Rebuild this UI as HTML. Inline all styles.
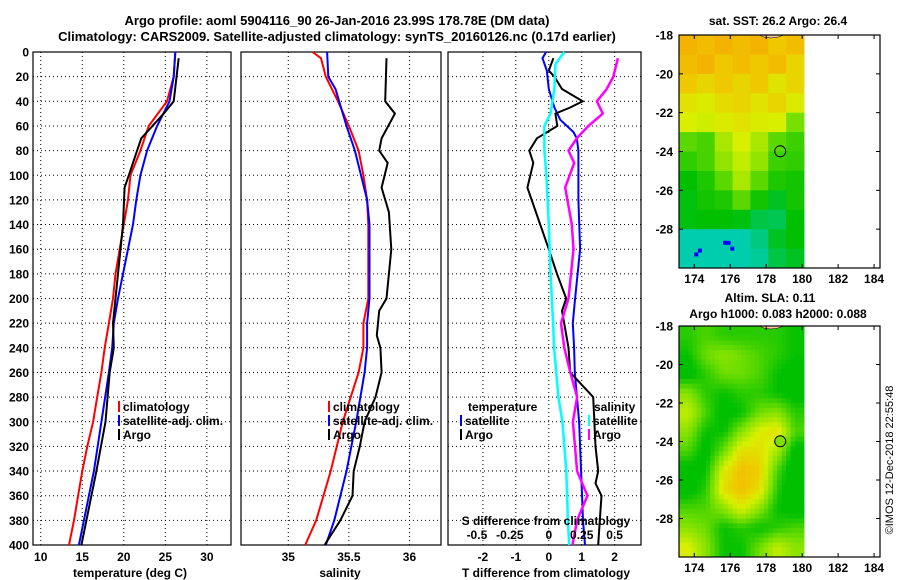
<!DOCTYPE html>
<html><head><meta charset="utf-8"><style>
html,body{margin:0;padding:0;background:#fff;}
svg{display:block;font-family:"Liberation Sans",Arial,sans-serif;font-weight:bold;}
</style></head><body>
<svg id="s" width="900" height="580" viewBox="0 0 900 580" xmlns="http://www.w3.org/2000/svg">
<text x="337" y="25" font-size="13" text-anchor="middle">Argo profile: aoml 5904116_90 26-Jan-2016 23.99S 178.78E (DM data)</text>
<text x="337" y="41" font-size="13" text-anchor="middle">Climatology: CARS2009. Satellite-adjusted climatology: synTS_20160126.nc (0.17d earlier)</text>
<text x="778" y="25" font-size="12" text-anchor="middle">sat. SST: 26.2 Argo: 26.4</text>
<text x="770" y="302" font-size="12" text-anchor="middle">Altim. SLA: 0.11</text>
<text x="778" y="318" font-size="12" text-anchor="middle">Argo h1000: 0.083 h2000: 0.088</text>
<text transform="translate(893,460) rotate(-90)" font-size="11" font-weight="normal" text-anchor="middle">©IMOS 12-Dec-2018 22:55:48</text>
<g id="g"></g>
</svg>
<script>
// ---- profile data (depth m) ----
const tClimDepth=[0,20,40,60,80,100,120,140,160,180,200,220,240,260,280,300,320,340,360,380,400];
const tClim=[26.2,26.0,25.2,23.0,22.0,20.8,20.5,20.0,19.5,19.0,18.7,18.2,17.7,17.3,16.8,16.3,15.6,15.0,14.5,14.0,13.4];
const tSatDepth=[0,20,40,60,80,100,120,140,160,180,200,220,240,260,300,340,400];
const tSat=[26.2,26.0,25.5,24.0,22.8,22.0,21.5,21.1,20.5,19.9,19.3,18.8,18.6,18.2,17.3,16.4,14.6];
const tArgoDepth=[5,40,50,70,80,100,110,140,160,200,220,240,260,300,340,400];
const tArgo=[26.6,26.0,24.8,22.1,21.6,20.6,20.1,19.9,19.6,19.0,18.7,18.8,18.3,17.8,16.7,14.9];
const sClimDepth=[0,5,20,40,60,80,100,120,140,200,220,240,260,300,340,380,400];
const sClim=[35.20,35.27,35.31,35.41,35.50,35.58,35.62,35.65,35.66,35.66,35.62,35.62,35.58,35.45,35.35,35.23,35.14];
const sSatDepth=[0,20,30,60,80,100,120,140,200,220,240,260,300,340,380,400];
const sSat=[35.32,35.33,35.39,35.48,35.55,35.60,35.65,35.67,35.67,35.65,35.65,35.63,35.56,35.48,35.38,35.31];
const sArgoDepth=[5,40,50,70,80,90,110,130,160,200,210,230,240,260,280,300,320,340,360,380,400];
const sArgo=[35.81,35.80,35.88,35.77,35.75,35.82,35.77,35.83,35.85,35.81,35.75,35.73,35.76,35.77,35.72,35.63,35.59,35.54,35.53,35.43,35.30];
const dtSatDepth=[0,5,15,30,45,55,65,70,80,120,160,200,220,240,260,300,340,380,400];
const dtSat=[-0.08,-0.19,-0.06,0.0,0.17,0.35,0.75,0.85,0.9,0.9,0.95,0.8,0.73,0.77,0.79,0.92,0.98,1.04,1.1];
const dtArgoDepth=[5,15,20,30,40,45,50,60,70,80,90,110,140,160,180,200,210,240,260,280,320,340,350,360,380,400];
const dtArgo=[0.14,0.0,0.17,0.4,1.03,0.65,0.2,0.26,-0.36,-0.59,-0.47,-0.65,-0.26,0.0,0.25,0.53,0.4,0.6,0.65,1.35,1.42,1.5,1.42,1.6,1.55,1.5];
const dsSatDepth=[0,10,30,50,60,80,100,140,180,220,240,280,300,340,380,400];
const dsSat=[0.118,0.05,0.043,0.013,-0.033,-0.033,-0.018,0.0,0.013,0.033,0.04,0.073,0.103,0.133,0.145,0.155];
const dsArgoDepth=[5,20,30,40,50,60,70,80,90,110,140,160,200,220,240,260,280,300,340,360,380,400];
const dsArgo=[0.525,0.49,0.44,0.365,0.41,0.30,0.213,0.15,0.193,0.125,0.175,0.188,0.15,0.093,0.118,0.163,0.215,0.183,0.215,0.293,0.215,0.18];
const yTicks=[0,20,40,60,80,100,120,140,160,180,200,220,240,260,280,300,320,340,360,380,400];
const tTicks=[10,15,20,25,30];
const sTicks=[35,35.5,36];
const dTTicks=[-2,-1,0,1,2];
const dSTicks=[-0.5,-0.25,0,0.25,0.5];
// ---- map data (rows lat -18..-29, cols lon 173.2..180.1) ----
const sstGrid=[
[.95,.9,.95,.9,.95,.85,.9],[.9,.95,.85,.9,.85,.9,.8],[.85,.8,.85,.8,.85,.75,.8],[.75,.72,.78,.8,.75,.8,.72],
[.7,.68,.72,.75,.72,.7,.5],[.45,.42,.6,.7,.6,.45,.4],[.38,.42,.55,.65,.55,.4,.38],[.3,.35,.45,.6,.45,.35,.33],
[.28,.33,.35,.45,.33,.25,.33],[.28,.3,.3,.28,.2,.18,.3],[.05,.05,.05,.05,.12,.25,.3],[.05,.05,.05,.05,.08,.2,.25]];
const slaGrid=[
[.45,.5,.45,.45,.45,.45,.4],[.4,.55,.6,.55,.5,.45,.4],[.35,.45,.55,.55,.5,.4,.35],[.6,.45,.4,.45,.45,.4,.35],
[.7,.5,.35,.4,.55,.6,.45],[.6,.4,.4,.6,.75,.8,.5],[.5,.35,.55,.8,.8,.65,.35],[.35,.4,.75,.9,.85,.5,.3],
[.35,.45,.8,.9,.8,.45,.3],[.5,.5,.6,.75,.6,.4,.35],[.6,.55,.4,.45,.4,.45,.5],[.75,.6,.4,.4,.55,.7,.6]];
const blueLon=[174.0,174.2,175.6,175.8,176.0];
const blueLat=[-29.2,-29.0,-28.6,-28.6,-28.9];
const lonTicks=[174,176,178,180,182,184];
const latTicks=[-18,-20,-22,-24,-26,-28];
const argoLon=178.78, argoLat=-23.99;

const NS='http://www.w3.org/2000/svg';
const G=document.getElementById('g');
function mk(t,a,p){const e=document.createElementNS(NS,t);for(const k in a)e.setAttribute(k,a[k]);(p||G).appendChild(e);return e;}
const Y0=52,Y1=545;
const yS=d=>Y0+(d/400)*(Y1-Y0);
function panel(x0,x1,xmin,xmax,ticks,name){
  const xs=v=>x0+(v-xmin)/(xmax-xmin)*(x1-x0);
  const g=mk('g',{});
  
  
  ticks.forEach(t=>{const l=mk('line',{x1:xs(t),x2:xs(t),y1:Y0,y2:Y1,stroke:'#000','stroke-dasharray':'1,3','stroke-width':1},g);
    });
  yTicks.forEach(t=>{const l=mk('line',{x1:x0,x2:x1,y1:yS(t),y2:yS(t),stroke:'#000','stroke-dasharray':'1,3','stroke-width':1},g);
    });
  const r=mk('rect',{x:x0,y:Y0,width:x1-x0,height:Y1-Y0,fill:'none',stroke:'#000','stroke-width':1.2},g);
  
  return {xs,g};
}
function line(P,xv,dv,col,w,name){
  const pts=dv.map((d,i)=>P.xs(xv[i]).toFixed(1)+','+yS(d).toFixed(1)).join(' ');
  const l=mk('polyline',{points:pts,fill:'none',stroke:col,'stroke-width':w},P.g);
  
}
function txt(x,y,s,o){const t=mk('text',Object.assign({x:x,y:y,'font-size':12},o||{}));t.textContent=s;return t;}
// panel 1
const P1=panel(33,231,9.07,32.9,tTicks,'temperature-panel');
line(P1,tClim,tClimDepth,'#f00',2,'temp-climatology-line');
line(P1,tSat,tSatDepth,'#00f',2,'temp-satellite-line');
line(P1,tArgo,tArgoDepth,'#000',2,'temp-argo-line');
yTicks.forEach(t=>{const e=txt(29,yS(t)+4.5,String(t),{'text-anchor':'end'});});
tTicks.forEach(t=>{const e=txt(P1.xs(t),561,String(t),{'text-anchor':'middle'});});
let e=txt(130,577,'temperature (deg C)',{'text-anchor':'middle'});
// panel 2
const P2=panel(241,441,34.61,36.26,sTicks,'salinity-panel');
line(P2,sClim,sClimDepth,'#f00',2,'sal-climatology-line');
line(P2,sSat,sSatDepth,'#00f',2,'sal-satellite-line');
line(P2,sArgo,sArgoDepth,'#000',2,'sal-argo-line');
sTicks.forEach(t=>{const e=txt(P2.xs(t),561,String(t),{'text-anchor':'middle'});});
e=txt(340,577,'salinity',{'text-anchor':'middle'});
// panel 3
const P3=panel(448,641,-3.06,2.80,dTTicks,'difference-panel');
line(P3,dtSat,dtSatDepth,'#00f',2,'dt-satellite-line');
line(P3,dtArgo,dtArgoDepth,'#000',2,'dt-argo-line');
line(P3,dsSat.map(v=>v*4),dsSatDepth,'#0ff',2.5,'ds-satellite-line');
line(P3,dsArgo.map(v=>v*4),dsArgoDepth,'#f0f',2.5,'ds-argo-line');
dTTicks.forEach(t=>{const e=txt(P3.xs(t),561,String(t),{'text-anchor':'middle'});});
dSTicks.forEach(t=>{const e=txt(P3.xs(t*4)+(t<0?-6:0),539,String(t),{'text-anchor':'middle'});});
e=txt(546,525,'S difference from climatology',{'text-anchor':'middle'});
e=txt(546,577,'T difference from climatology',{'text-anchor':'middle'});
// legends
function leg(x,y,col,label,name){const b=mk('rect',{x:x,y:y-10,width:2,height:11,fill:col});
  const t=txt(x+5,y,label);}
leg(118,411,'#f00','climatology','legend-climatology');
leg(118,425,'#00f','satellite-adj. clim.','legend-satellite-adj');
leg(118,439,'#000','Argo','legend-argo');
leg(328,411,'#f00','climatology','legend2-climatology');
leg(328,425,'#00f','satellite-adj. clim.','legend2-satellite-adj');
leg(328,439,'#000','Argo','legend2-argo');
e=txt(468,411,'temperature');
leg(460,425,'#00f','satellite','legend-t-satellite');
leg(460,439,'#000','Argo','legend-t-argo');
e=txt(594,411,'salinity');
leg(588,425,'#0ff','satellite','legend-s-satellite');
leg(588,439,'#f0f','Argo','legend-s-argo');
// maps
const stops=[[0,[0,208,208]],[0.3,[0,192,0]],[0.5,[120,224,0]],[0.7,[216,240,0]],[0.85,[240,200,0]],[1,[245,168,0]]];
function cmap(v){v=Math.max(0,v);for(let i=1;i<stops.length;i++){if(v<=stops[i][0]){const a=stops[i-1],b=stops[i],f=(v-a[0])/(b[0]-a[0]);
  return 'rgb('+a[1].map((c,k)=>Math.round(c+(b[1][k]-c)*f)).join(',')+')';}}return 'rgb(245,168,0)';}
function map(top,bot,grid,smooth,name){
  const x0=679,x1=880,lon0=173.15,lon1=184.33,lat0=-18,lat1=-30;
  const xs=v=>x0+(v-lon0)/(lon1-lon0)*(x1-x0), ys=v=>top+(v-lat0)/(lat1-lat0)*(bot-top);
  const g=mk('g',{});
  const R=grid.length,C=grid[0].length,dl=(180.1-lon0)/C;
  if(!smooth){
    grid.forEach((row,i)=>row.forEach((v,j)=>{const r=mk('rect',{x:xs(lon0+j*dl),y:ys(-18-i),width:xs(lon0+(j+1)*dl)-xs(lon0+j*dl)+0.5,height:ys(-19-i)-ys(-18-i)+0.5,fill:cmap(v)},g);
      }));
    blueLon.forEach((lo,k)=>{const r=mk('rect',{x:xs(lo),y:ys(blueLat[k]),width:4,height:4,fill:'#0000ff'},g);
      });
  } else {
    const N=4;
    for(let i=0;i<R*N;i++)for(let j=0;j<C*N;j++){
      const fi=Math.min(R-1,Math.max(0,(i+0.5)/N-0.5)),fj=Math.min(C-1,Math.max(0,(j+0.5)/N-0.5));
      const i0=Math.floor(fi),j0=Math.floor(fj),i1=Math.min(R-1,i0+1),j1=Math.min(C-1,j0+1),a=fi-i0,b=fj-j0;
      const v=grid[i0][j0]*(1-a)*(1-b)+grid[i0][j1]*(1-a)*b+grid[i1][j0]*a*(1-b)+grid[i1][j1]*a*b;
      const r=mk('rect',{x:xs(lon0+j*dl/N),y:ys(-18-i/N),width:xs(lon0+(j+1)*dl/N)-xs(lon0+j*dl/N)+0.5,height:ys(-18-(i+1)/N)-ys(-18-i/N)+0.5,fill:cmap(Math.max(0.3,v*1.15-0.15))},g);
      }
  }
  const land=mk('path',{d:`M${xs(177.6)} ${top} Q${xs(178.2)} ${top+6} ${xs(179)} ${top}Z`,fill:'#f5c8a0',stroke:'#000','stroke-width':0.5},g);
  
  const c=mk('circle',{cx:xs(argoLon),cy:ys(argoLat),r:5.5,fill:smooth?'#80e000':'none',stroke:'#000','stroke-width':1},g);
  
  const fr=mk('rect',{x:x0,y:top,width:x1-x0,height:bot-top,fill:'none',stroke:'#000','stroke-width':1.2},g);
  
  lonTicks.forEach(t=>{mk('line',{x1:xs(t),x2:xs(t),y1:bot,y2:bot-4,stroke:'#000'},g);mk('line',{x1:xs(t),x2:xs(t),y1:top,y2:top+4,stroke:'#000'},g);
    const e=txt(xs(t),bot+15,String(t),{'text-anchor':'middle'});});
  latTicks.forEach(t=>{mk('line',{x1:x0,x2:x0+4,y1:ys(t),y2:ys(t),stroke:'#000'},g);mk('line',{x1:x1,x2:x1-4,y1:ys(t),y2:ys(t),stroke:'#000'},g);
    const e=txt(673,ys(t)+4.5,String(t),{'text-anchor':'end'});});
}
map(35,268,sstGrid,false,'sst-map');
map(326,557,slaGrid,true,'sla-map');
</script>
</body></html>
